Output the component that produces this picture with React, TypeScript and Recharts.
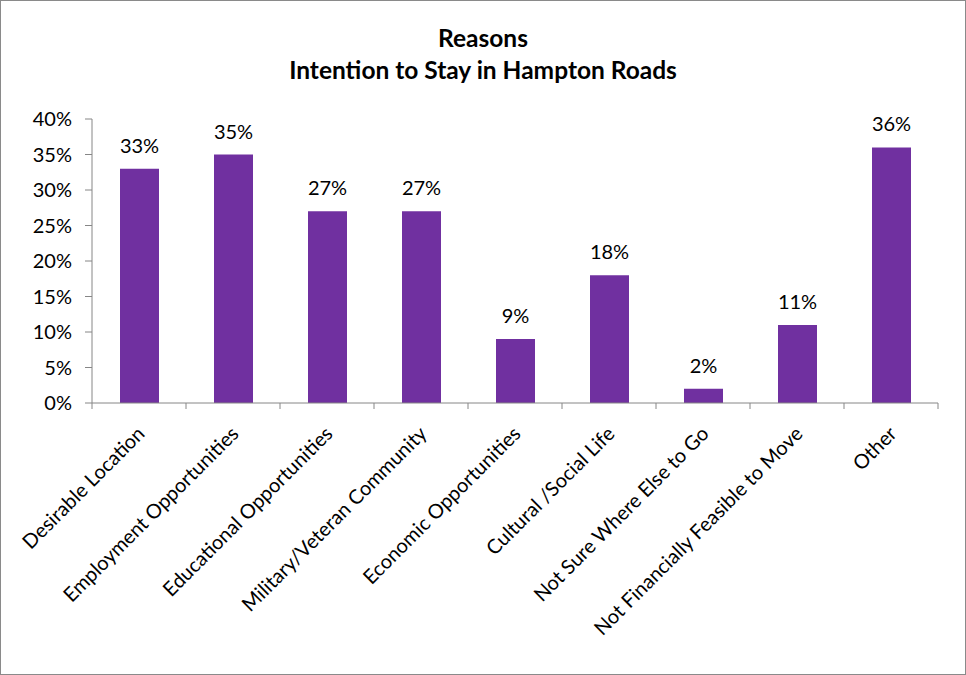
import { BarChart, Bar, XAxis, YAxis, LabelList } from "recharts";

const reasons = [
  "Desirable Location",
  "Employment Opportunities",
  "Educational  Opportunities",
  "Military/Veteran Community",
  "Economic Opportunities",
  "Cultural /Social Life",
  "Not Sure Where Else to Go",
  "Not Financially Feasible to Move",
  "Other",
];
const shares = [33, 35, 27, 27, 9, 18, 2, 11, 36];
const yTicks = [0, 5, 10, 15, 20, 25, 30, 35, 40];

const data = reasons.map((reason, i) => ({ reason, share: shares[i] }));

const FONT = "Lato, 'Open Sans', sans-serif";
const AXIS = "#868686";
const BAND = 94; // category width in px

const XTick = (props: any) => {
  const { x, y, payload, index } = props;
  return (
    <g>
      <line x1={x - BAND / 2} x2={x - BAND / 2} y1={y} y2={y + 6} stroke={AXIS} />
      {index === reasons.length - 1 && (
        <line x1={x + BAND / 2} x2={x + BAND / 2} y1={y} y2={y + 6} stroke={AXIS} />
      )}
      <text
        x={x + 7}
        y={y + 32}
        textAnchor="end"
        transform={`rotate(-45 ${x + 7} ${y + 32})`}
        fontSize={20}
        fontFamily={FONT}
        fill="#000"
      >
        {payload.value}
      </text>
    </g>
  );
};

export default function App() {
  return (
    <div
      style={{
        position: "absolute",
        left: 0,
        top: 0,
        width: 966,
        height: 675,
        boxSizing: "border-box",
        border: "1px solid #8a8a8a",
        background: "#fff",
        fontFamily: FONT,
      }}
    >
      <div
        style={{
          position: "absolute",
          top: 21,
          left: 0,
          width: 964,
          textAlign: "center",
          fontWeight: 700,
          fontSize: 24.5,
          lineHeight: "32px",
          color: "#000",
        }}
      >
        Reasons
        <br />
        Intention to Stay in Hampton Roads
      </div>
      <BarChart
        width={964}
        height={673}
        data={data}
        margin={{ top: 118, right: 27, bottom: 0, left: 0 }}
      >
        <XAxis
          dataKey="reason"
          interval={0}
          height={271}
          tickLine={false}
          tickSize={0}
          tickMargin={0}
          axisLine={{ stroke: AXIS }}
          tick={<XTick />}
        />
        <YAxis
          domain={[0, 40]}
          ticks={yTicks}
          width={91}
          tickFormatter={(v: number) => `${v}%`}
          axisLine={{ stroke: AXIS }}
          tickLine={{ stroke: AXIS }}
          tickSize={7}
          tickMargin={13}
          tick={{ fill: "#000", fontSize: 20, fontFamily: FONT }}
        />
        <Bar dataKey="share" fill="#7030A0" barSize={39} isAnimationActive={false}>
          <LabelList
            dataKey="share"
            position="top"
            offset={16}
            formatter={(v: any) => `${v}%`}
            style={{ fill: "#000", fontSize: 20, fontFamily: FONT }}
          />
        </Bar>
      </BarChart>
    </div>
  );
}
